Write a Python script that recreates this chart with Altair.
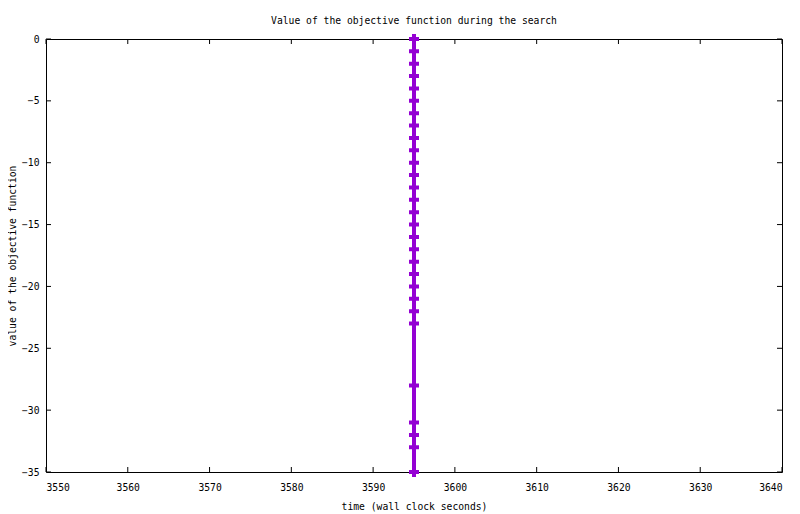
import altair as alt
import pandas as pd

# data
obj_values = [0, -1, -2, -3, -4, -5, -6, -7, -8, -9, -10, -11, -12, -13, -14, -15,
              -16, -17, -18, -19, -20, -21, -22, -23, -28, -31, -32, -33, -35]
times = [3595] * len(obj_values)
x_ticks = [3550, 3560, 3570, 3580, 3590, 3600, 3610, 3620, 3630, 3640]
y_ticks = [0, -5, -10, -15, -20, -25, -30, -35]

W, H = 736, 433
TL = 5
FONT = "DejaVu Sans Mono"
FS = 9.7
COLOR = "#9400D3"

df = pd.DataFrame({"x": times, "y": obj_values, "i": list(range(len(obj_values)))})
dx = pd.DataFrame({"x": x_ticks})
dy = pd.DataFrame({"y": y_ticks})

xs = alt.Scale(domain=[3550, 3640], nice=False, zero=False)
ys = alt.Scale(domain=[-35, 0], nice=False, zero=False)

xaxis = alt.Axis(values=x_ticks, format="d", ticks=False, domain=False, grid=False,
                 labelPadding=10, title="time (wall clock seconds)",
                 titleX=W / 2, titleY=37, titleBaseline="alphabetic", titleAnchor="middle")
yaxis = alt.Axis(values=y_ticks, format="d", ticks=False, domain=False, grid=False,
                 labelPadding=7, title="value of the objective function",
                 titleX=-31, titleY=H / 2, titleBaseline="alphabetic", titleAnchor="middle")

X = alt.X("x:Q", scale=xs, axis=xaxis)
Y = alt.Y("y:Q", scale=ys, axis=yaxis)

line = alt.Chart(df).mark_line(color=COLOR, strokeWidth=4).encode(x=X, y=Y, order="i:Q")
pts = alt.Chart(df).mark_point(shape="cross", filled=True, size=100, opacity=1,
                               color=COLOR).encode(x=X, y=Y)

xb = alt.Chart(dx).mark_rule(color="black", strokeWidth=1).encode(
    x=X, y=alt.value(H), y2=alt.value(H - TL))
xt = alt.Chart(dx).mark_rule(color="black", strokeWidth=1).encode(
    x=X, y=alt.value(0), y2=alt.value(TL))
yl = alt.Chart(dy).mark_rule(color="black", strokeWidth=1).encode(
    y=Y, x=alt.value(0), x2=alt.value(TL))
yr = alt.Chart(dy).mark_rule(color="black", strokeWidth=1).encode(
    y=Y, x=alt.value(W), x2=alt.value(W - TL))

chart = alt.layer(line, pts, xb, xt, yl, yr).properties(
    width=W, height=H,
    title=alt.TitleParams("Value of the objective function during the search",
                          font=FONT, fontSize=FS, fontWeight="normal", color="black",
                          offset=5, anchor="middle"),
    autosize=alt.AutoSizeParams(type="none"),
    padding={"left": 38, "top": 31, "right": 10, "bottom": 40},
).configure_view(stroke="black", strokeWidth=1).configure_axis(
    labelFont=FONT, labelFontSize=FS, labelColor="black",
    titleFont=FONT, titleFontSize=FS, titleFontWeight="normal", titleColor="black",
)

chart.save("out.html", embed_options={"renderer": "svg", "actions": False})
